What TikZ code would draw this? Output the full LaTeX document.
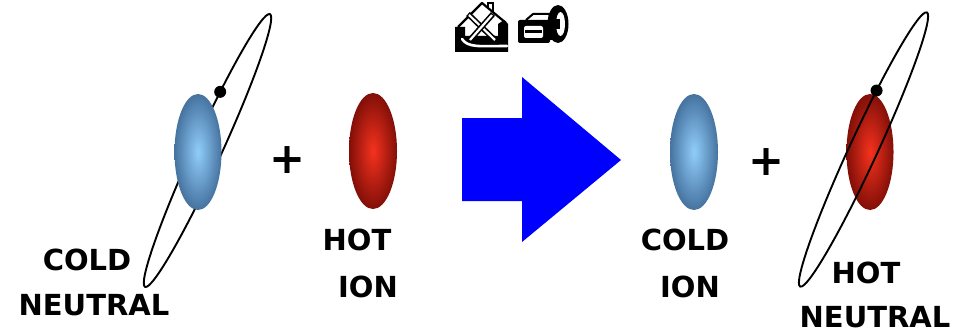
\documentclass[tikz,border=0pt]{standalone}
\usepackage{fontspec}
\setmainfont{DejaVu Sans}
\begin{document}
\begin{tikzpicture}[x=1pt,y=-1pt,
  lbl/.style={anchor=base,inner sep=0pt,font=\fontsize{29}{34}\selectfont\bfseries},
  plussign/.style={inner sep=0pt,font=\fontsize{43}{43}\selectfont\bfseries},
  orbit/.style={draw=black,line width=1.9pt},
  electron/.style={circle,fill=black,minimum size=12pt,inner sep=0pt},
  coldball/.style={inner color=coldin,outer color=coldout},
  hotball/.style={inner color=hotin,outer color=hotout},
  icon/.style={fill=black}]
\definecolor{coldin}{RGB}{145,205,250}
\definecolor{coldout}{RGB}{70,115,160}
\definecolor{hotin}{RGB}{245,50,30}
\definecolor{hotout}{RGB}{130,15,8}
\definecolor{arrowblue}{RGB}{0,0,255}
\path[use as bounding box] (0,0) rectangle (965,334);

% ---- before: cold neutral + hot ion ----
\begin{scope}[shift={(207.5,150.5)},rotate=65.4]
  \draw[orbit] (0,0) ellipse [x radius=150, y radius=14];
  \coordinate (eL) at (-67:150 and 14);
\end{scope}
\shade[coldball] (198,152) ellipse [x radius=23.5, y radius=58];
\node[electron] (dotL) at (eL) {};
\node[plussign] (plusL) at (288,160) {+};
\shade[hotball] (373,151) ellipse [x radius=24, y radius=58];

\node[lbl] (coldA) at (87,270) {COLD};
\node[lbl] (neutA) at (94,315) {NEUTRAL};
\node[lbl] (hotA) at (357,250) {HOT};
\node[lbl] (ionA) at (368,297) {ION};

% ---- transfer arrow ----
\fill[arrowblue] (462,118) -- (522,118) -- (522,77) -- (621,160)
  -- (522,242) -- (522,201) -- (462,201) -- cycle;

% ---- icons above the arrow ----
% house with crossed tools
\fill[icon] (455,27) -- (465,27) -- (465,36) -- (498,36) -- (498,24)
  -- (504,20) -- (508,24) -- (508,52) -- (455,52) -- cycle;
\draw[white,line width=2.6pt,line cap=round] (462,39) .. controls (468,48) and (480,46) .. (507,46);
\draw[black,line width=2.2pt,line join=round] (458,27) -- (482,3) -- (506,23);
\draw[black,line width=1.8pt] (488,8) -- (488,3) -- (493,3) -- (493,13);
\draw[black,line width=5.5pt] (468,14) -- (496,41);
\draw[white,line width=2.2pt] (469,15) -- (495,40);
\draw[black,line width=5.5pt] (493,14) -- (469,41);
\draw[white,line width=2.2pt] (492,15) -- (470,40);
% camera with reel
\draw[black,line width=2pt,line join=round] (526,20) -- (533,14) -- (549,14) -- (552,20);
\fill[icon,rounded corners=2pt] (518,20) rectangle (550,43);
\fill[white,rounded corners=2pt] (524,26) rectangle (543,38);
\fill[icon] (525,30.5) rectangle (542,33.5);
\fill[icon] (548,22) rectangle (556,40);
\fill[icon] (558,24) ellipse [x radius=10.5, y radius=19];
\fill[white] (560.5,24) ellipse [x radius=4.5, y radius=12];
\fill[icon] (555,19) rectangle (560,29);

% ---- after: cold ion + hot neutral ----
\shade[coldball] (694,152) ellipse [x radius=24, y radius=58];
\node[plussign] (plusR) at (767,162) {+};
\shade[hotball] (870,152) ellipse [x radius=23.5, y radius=58];
\begin{scope}[shift={(863.5,149.5)},rotate=65.2]
  \draw[orbit] (0,0) ellipse [x radius=151, y radius=14];
  \coordinate (eR) at (-67:151 and 14);
\end{scope}
\node[electron] (dotR) at (eR) {};

\node[lbl] (coldB) at (685,250) {COLD};
\node[lbl] (ionB) at (690,297) {ION};
\node[lbl] (hotB) at (866,283) {HOT};
\node[lbl] (neutB) at (875,327) {NEUTRAL};
\end{tikzpicture}
\end{document}
